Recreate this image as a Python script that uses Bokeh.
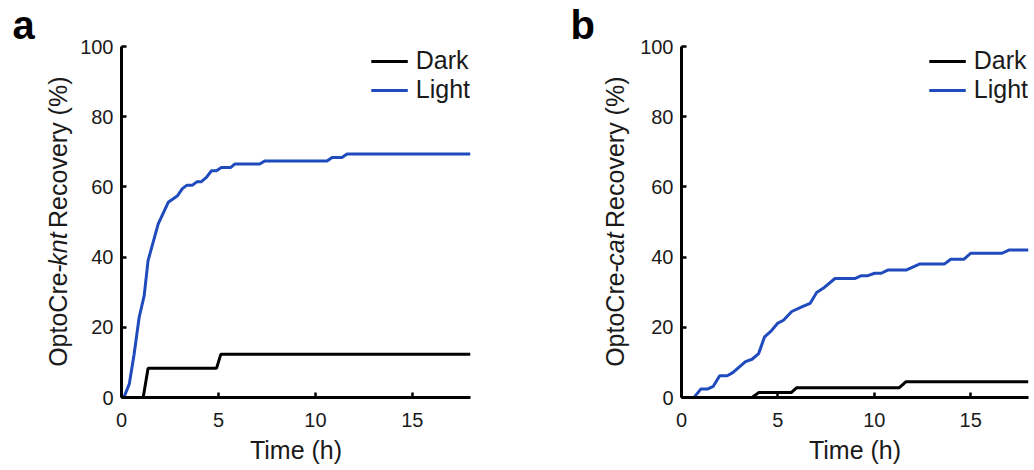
import math
from bokeh.plotting import figure
from bokeh.layouts import row, column
from bokeh.models import Range1d, Legend, LegendItem, FixedTicker
from bokeh.core.properties import value
from bokeh.embed import file_html
from bokeh.resources import INLINE

# ---- data ----
a_light_t = [0, 0.12, 0.40, 0.65, 0.91, 1.17, 1.37, 1.89, 2.41, 2.89, 3.14, 3.38, 3.66, 3.90, 4.12,
             4.38, 4.64, 4.90, 5.15, 5.62, 5.84, 7.13, 7.39, 10.60, 10.86, 11.37, 11.63, 18.0]
a_light_v = [0, 0, 3.8, 12.3, 22.8, 29.0, 39.0, 49.4, 55.6, 57.5, 59.5, 60.5, 60.5, 61.5, 61.5,
             62.7, 64.6, 64.6, 65.5, 65.5, 66.5, 66.5, 67.4, 67.4, 68.4, 68.4, 69.4, 69.4]
a_dark_t = [0, 1.12, 1.37, 4.90, 5.12, 18.0]
a_dark_v = [0, 0, 8.3, 8.3, 12.3, 12.3]

b_light_t = [0, 0.65, 1.00, 1.34, 1.65, 1.98, 2.37, 2.66, 3.32, 3.66, 4.00, 4.31, 4.66, 5.00, 5.29,
             5.72, 6.24, 6.67, 7.01, 7.35, 7.96, 8.99, 9.33, 9.67, 10.02, 10.36, 10.70, 11.65,
             12.34, 13.63, 13.97, 14.66, 15.00, 16.63, 16.98, 18.0]
b_light_v = [0, 0, 2.4, 2.4, 3.2, 6.2, 6.2, 7.1, 10.2, 10.9, 12.5, 17.3, 19.0, 21.2, 22.0,
             24.5, 25.8, 26.8, 29.9, 31.1, 33.9, 33.9, 34.7, 34.7, 35.4, 35.4, 36.3, 36.3,
             38.0, 38.0, 39.4, 39.4, 41.1, 41.1, 42.0, 42.0]
b_dark_t = [0, 3.66, 4.00, 5.69, 5.98, 11.30, 11.65, 18.0]
b_dark_v = [0, 0, 1.4, 1.4, 2.8, 2.8, 4.5, 4.5]

x_ticks = [0, 5, 10, 15]
y_ticks = [0, 20, 40, 60, 80, 100]
series_names = ["Dark", "Light"]
panel_letters = ["a", "b"]
gene_names = ["knt", "cat"]

BLUE = "#1f4bbd"
BLACK = "#000000"
TXT = "#1a1a1a"
FONT = "Liberation Sans"
LBL_SIZE = 25
W, H = 1034, 470
TOP_H = 39            # height of the strip holding the panel letters
TOP_B, BOT_B = 7, 73  # borders of the main row (frame spans canvas y 46..397)


def text_width(s, size):
    w = {'O': .778, 'p': .556, 't': .278, 'o': .556, 'C': .722, 'r': .333, 'e': .556, '-': .333,
         'k': .5, 'n': .556, ' ': .278, 'R': .722, 'c': .5, 'v': .5, 'y': .5, '(': .333,
         '%': .889, ')': .333, 'a': .556}
    return sum(w.get(ch, .556) for ch in s) * size * 0.975


def blank(width, height, y_range, top=0, bottom=0):
    f = figure(width=width, height=height, x_range=Range1d(0, width), y_range=y_range,
               x_axis_type=None, y_axis_type=None, title=None,
               output_backend="svg", toolbar_location=None,
               min_border_left=0, min_border_right=0,
               min_border_top=top, min_border_bottom=bottom)
    f.outline_line_color = None
    f.xgrid.visible = False
    f.ygrid.visible = False
    f.background_fill_color = "white"
    f.border_fill_color = "white"
    return f


def letter_strip():
    # data y == distance above the strip's bottom edge; the renderer puts the
    # glyph baseline about 14 px below the anchor for this 40 px bold text
    f = blank(W, TOP_H, Range1d(0, TOP_H))
    for letter, lx in zip(panel_letters, [12, 570]):
        f.text(x=[lx], y=[TOP_H - 38 + 14], text=[letter], text_font=value(FONT),
               text_font_size=value("40px"), text_font_style="bold", text_color=BLACK,
               text_align="left", text_baseline="alphabetic")
    return f


def label_strip(width, gene, ylabel_mid_x):
    # frame covers canvas y 46..397; data y == H - canvas y
    f = blank(width, H - TOP_H, Range1d(H - 397, H - 46), TOP_B, BOT_B)
    gap = text_width(" ", LBL_SIZE)
    parts = [("OptoCre-", "normal", 0.0), (gene, "italic", 0.0), ("Recovery (%)", "normal", gap)]
    total = sum(text_width(s, LBL_SIZE) + g for s, _, g in parts)
    frame_mid = H - (46 + 397) / 2
    y0 = frame_mid - total / 2
    for s, style, g in parts:
        y0 += g
        wdt = text_width(s, LBL_SIZE)
        f.text(x=[ylabel_mid_x], y=[y0 + wdt / 2], text=[s], angle=math.pi / 2,
               text_font=value(FONT), text_font_size=value(f"{LBL_SIZE}px"),
               text_font_style=style, text_color=TXT,
               text_align="center", text_baseline="middle")
        y0 += wdt
    return f


def make_panel(dark_t, dark_v, light_t, light_v, left_border, right_border):
    p = figure(width=left_border + 349 + right_border, height=H - TOP_H,
               x_range=Range1d(0, 18), y_range=Range1d(0, 100),
               output_backend="svg", toolbar_location=None, title=None,
               min_border_left=left_border, min_border_right=right_border,
               min_border_top=TOP_B, min_border_bottom=BOT_B)
    p.outline_line_color = None
    p.xgrid.visible = False
    p.ygrid.visible = False
    p.background_fill_color = "white"
    p.border_fill_color = "white"

    rd = p.line(dark_t, dark_v, line_color=BLACK, line_width=3)
    rl = p.line(light_t, light_v, line_color=BLUE, line_width=3)

    for ax in (p.xaxis[0], p.yaxis[0]):
        ax.axis_line_width = 3
        ax.axis_line_color = BLACK
        ax.major_tick_in = 5
        ax.major_tick_out = 0
        ax.major_tick_line_width = 2.5
        ax.major_tick_line_color = BLACK
        ax.minor_tick_line_color = None
        ax.major_label_text_font = FONT
        ax.major_label_text_font_size = "20px"
        ax.major_label_text_color = TXT
        ax.axis_label_text_font = FONT
        ax.axis_label_text_font_size = f"{LBL_SIZE}px"
        ax.axis_label_text_color = TXT
        ax.axis_label_text_font_style = "normal"
    p.xaxis.ticker = FixedTicker(ticks=x_ticks)
    p.yaxis.ticker = FixedTicker(ticks=y_ticks)
    p.xaxis.major_label_standoff = 15
    p.yaxis.major_label_standoff = 8
    p.xaxis.axis_label = "Time (h)"
    p.xaxis.axis_label_standoff = 6

    legend = Legend(items=[LegendItem(label=series_names[0], renderers=[rd]),
                           LegendItem(label=series_names[1], renderers=[rl])],
                    location="top_right")
    legend.border_line_color = None
    legend.background_fill_alpha = 0
    legend.label_text_font = FONT
    legend.label_text_font_size = f"{LBL_SIZE}px"
    legend.label_text_color = TXT
    legend.glyph_width = 37
    legend.glyph_height = 20
    legend.label_standoff = 8
    legend.margin = 0
    legend.padding = 3
    legend.spacing = 0
    p.add_layout(legend)
    return p


top = letter_strip()
strip_a = label_strip(75, gene_names[0], 57)
pa = make_panel(a_dark_t, a_dark_v, a_light_t, a_light_v, 46, 47)
strip_b = label_strip(120, gene_names[1], 614 - 517)
pb = make_panel(b_dark_t, b_dark_v, b_light_t, b_light_v, 42, 6)
layout = column(top, row(strip_a, pa, strip_b, pb, spacing=0), spacing=0)

open("out.html", "w").write(file_html(layout, INLINE))
